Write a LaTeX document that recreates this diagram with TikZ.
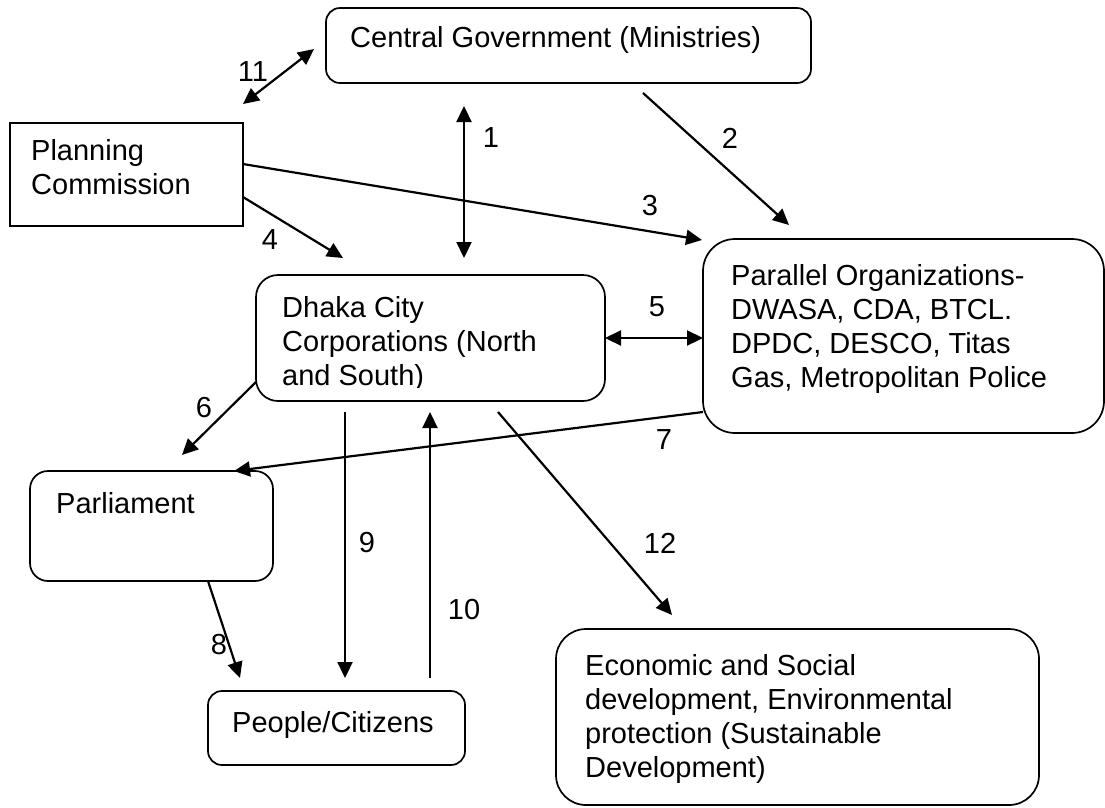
\documentclass[tikz,border=0pt]{standalone}
\usepackage{fontspec}
\setmainfont{Liberation Sans}
\usetikzlibrary{arrows.meta}
\begin{document}
\begin{tikzpicture}[x=1pt,y=-1pt,
  box/.style={draw,line width=1.7pt,rounded corners=#1,inner sep=0pt},
  box/.default=15pt,
  sqbox/.style={draw,line width=1.7pt,inner sep=0pt},
  txt/.style={anchor=base west,inner sep=0pt,font=\fontsize{29}{34}\selectfont},
  lbl/.style={inner sep=0pt,font=\fontsize{29}{34}\selectfont},
  tip/.style={Triangle[length=16pt,width=15pt]},
  arr/.style={line width=2.2pt,-{Triangle[length=16pt,width=15pt]}},
  darr/.style={line width=2.2pt,{Triangle[length=16pt,width=15pt]}-{Triangle[length=16pt,width=15pt]}}]
\useasboundingbox (0,0) rectangle (1105,807);

% boxes
\node[box=14pt,minimum width=485pt,minimum height=75pt] (cg) at (568.5,45.5) {};
\node[sqbox,minimum width=233pt,minimum height=103pt] (pc) at (126.5,174.5) {};
\node[box=22pt,minimum width=349pt,minimum height=126pt] (dcc) at (430.5,338) {};
\node[box=32pt,minimum width=401pt,minimum height=194pt] (po) at (903.5,336) {};
\node[box=18pt,minimum width=243pt,minimum height=110pt] (pa) at (151.5,526) {};
\node[box=14pt,minimum width=257pt,minimum height=74pt] (pe) at (336.5,728) {};
\node[box=30pt,minimum width=483pt,minimum height=176pt] (ec) at (797.5,717) {};

% texts
\node[txt] (cgt) at (350,47) {Central Government (Ministries)};
\node[txt] (pct) at (31,160) {\begin{tabular}[t]{@{}l@{}}Planning\\Commission\end{tabular}};
\begin{scope}
\clip (256,275) rectangle (605,387);
\node[txt] (dcct) at (282,317) {\begin{tabular}[t]{@{}l@{}}Dhaka City\\Corporations (North\\and South)\end{tabular}};
\end{scope}
\node[txt] (pot) at (731,285) {\begin{tabular}[t]{@{}l@{}}Parallel Organizations-\\DWASA, CDA, BTCL.\\DPDC, DESCO, Titas\\Gas, Metropolitan Police\end{tabular}};
\node[txt] (pat) at (56,513) {Parliament};
\node[txt] (pet) at (232,732) {People/Citizens};
\node[txt] (ect) at (585,675) {\begin{tabular}[t]{@{}l@{}}Economic and Social\\development, Environmental\\protection (Sustainable\\Development)\end{tabular}};

% connector end points
\coordinate (a11s) at (243,104);  \coordinate (a11e) at (314,49);
\coordinate (a1s) at (464,106);   \coordinate (a1e) at (464,258);
\coordinate (a2s) at (643,93);    \coordinate (a2e) at (789,225);
\coordinate (a3s) at (243,164);   \coordinate (a3e) at (702,240);
\coordinate (a4s) at (243,197);   \coordinate (a4e) at (343,258);
\coordinate (a5s) at (605,338);   \coordinate (a5e) at (703,338);
\coordinate (a6s) at (256,382);   \coordinate (a6e) at (182,455);
\coordinate (a7s) at (703,412);   \coordinate (a7e) at (234,471);
\coordinate (a8s) at (208,581);   \coordinate (a8e) at (240,678);
\coordinate (a9s) at (345,412);   \coordinate (a9e) at (345,678);
\coordinate (a10s) at (430,678);  \coordinate (a10e) at (430,412);
\coordinate (a12s) at (498,412);  \coordinate (a12e) at (672,615);

% connectors
\draw[darr] (a11s) -- (a11e);
\draw[darr] (a1s) -- (a1e);
\draw[arr] (a2s) -- (a2e);
\draw[arr] (a3s) -- (a3e);
\draw[arr] (a4s) -- (a4e);
\draw[darr] (a5s) -- (a5e);
\draw[arr] (a6s) -- (a6e);
\draw[arr] (a7s) -- (a7e);
\draw[arr] (a8s) -- (a8e);
\draw[arr] (a9s) -- (a9e);
\draw[arr] (a10s) -- (a10e);
\draw[arr] (a12s) -- (a12e);

% labels
\node[lbl] (l11) at (253,72) {11};
\node[lbl] (l1) at (491,138) {1};
\node[lbl] (l2) at (730,138) {2};
\node[lbl] (l3) at (650,206) {3};
\node[lbl] (l4) at (270,240) {4};
\node[lbl] (l5) at (657,307) {5};
\node[lbl] (l6) at (204,408) {6};
\node[lbl] (l7) at (664,440) {7};
\node[lbl] (l8) at (219,645) {8};
\node[lbl] (l9) at (367,543) {9};
\node[lbl] (l10) at (464,610) {10};
\node[lbl] (l12) at (660,543) {12};
\end{tikzpicture}
\end{document}
